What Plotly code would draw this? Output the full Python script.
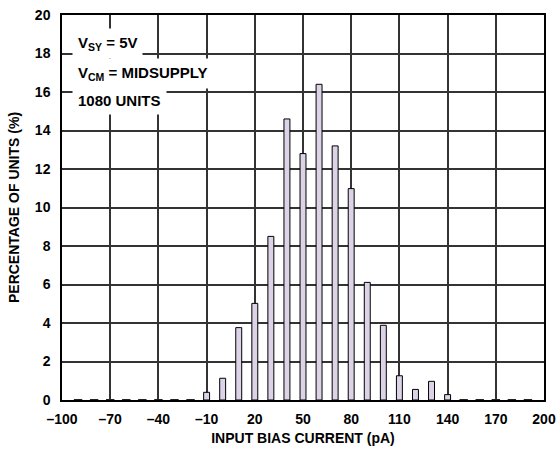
import plotly.graph_objects as go

# Histogram of input bias current (bins every 10 pA)
bias_pA = list(range(-90, 200, 10))
percent = [0, 0, 0, 0, 0, 0, 0, 0,
           0.40, 1.13, 3.76, 5.02, 8.50, 14.6, 12.8, 16.4, 13.2, 10.98,
           6.11, 3.88, 1.26, 0.55, 0.97, 0.28,
           0, 0, 0, 0, 0]
x_ticks = list(range(-100, 201, 30))
x_tick_text = [str(v).replace("-", "\u2013") for v in x_ticks]
y_ticks = list(range(0, 21, 2))

FONT = "Liberation Sans, Arial, Helvetica, sans-serif"
GRID = "#333333"

nonzero_x = [x for x, p in zip(bias_pA, percent) if p > 0]
nonzero_y = [p for p in percent if p > 0]
empty_x = [x for x, p in zip(bias_pA, percent) if p == 0]
empty_y = [p for p in percent if p == 0]

fig = go.Figure()
fig.add_trace(go.Bar(
    x=nonzero_x, y=nonzero_y, width=3.7,
    marker=dict(color="#dcd3e8", line=dict(color="#000000", width=1)),
    hoverinfo="x+y",
))
# empty bins show as short dashes on the baseline
fig.add_trace(go.Scatter(
    x=empty_x, y=empty_y, mode="markers",
    marker=dict(symbol="line-ew", size=6, line=dict(color="#222222", width=2)),
    hoverinfo="skip",
))

axis_common = dict(
    tickfont=dict(family=FONT, size=14, weight="bold", color="#000000"),
    ticks="outside", tickcolor="rgba(0,0,0,0)",
    showgrid=True, gridcolor=GRID, gridwidth=1.6,
    showline=True, linecolor="#000000", linewidth=1.5, mirror=True,
    zeroline=False, automargin=False,
)
fig.update_layout(
    width=558, height=455,
    margin=dict(l=62, r=14, t=15, b=55),
    paper_bgcolor="white", plot_bgcolor="white",
    showlegend=False,
    font=dict(family=FONT, size=14, color="#000000"),
    xaxis=dict(
        range=[x_ticks[0], x_ticks[-1]], tickmode="array",
        tickvals=x_ticks, ticktext=x_tick_text,
        ticklen=5,
        title=dict(text="INPUT BIAS CURRENT (pA)", standoff=8,
                   font=dict(family=FONT, size=14, weight="bold")),
        **axis_common,
    ),
    yaxis=dict(
        range=[y_ticks[0], y_ticks[-1]], tickmode="array", tickvals=y_ticks,
        ticklen=7,
        title=dict(text="PERCENTAGE OF UNITS (%)", standoff=12,
                   font=dict(family=FONT, size=14, weight="bold")),
        **axis_common,
    ),
)

notes = [
    ("V<sub>SY</sub> = 5V", 18.5),
    ("V<sub>CM</sub> = MIDSUPPLY", 16.95),
    ("1080 UNITS", 15.55),
]
for text, yv in notes:
    fig.add_annotation(
        x=-93.5, y=yv, xref="x", yref="y", xanchor="left", yanchor="middle",
        text=text, showarrow=False, bgcolor="white", borderpad=5,
        font=dict(family=FONT, size=15, weight="bold", color="#000000"),
    )

fig.write_html("out.html")
